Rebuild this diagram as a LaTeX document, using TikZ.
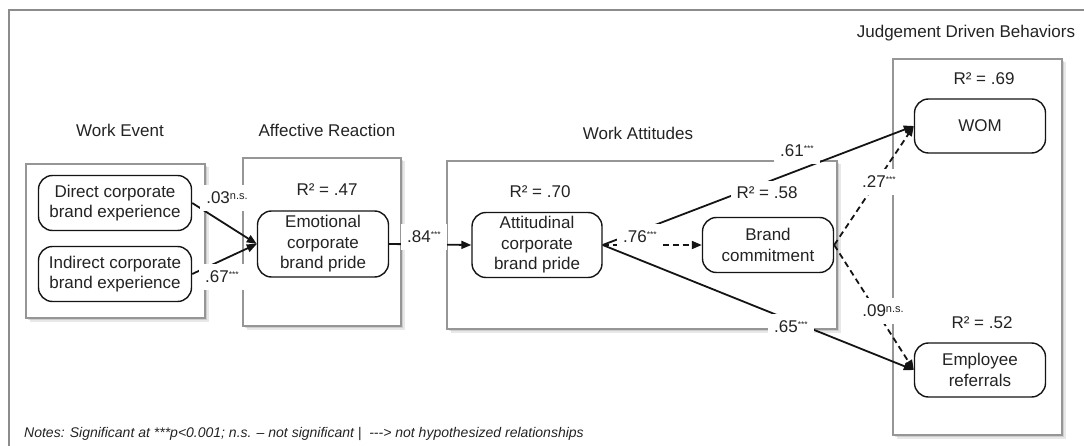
\documentclass[tikz,border=0pt]{standalone}
\usepackage{fontspec}
\setmainfont{Liberation Sans}
\usetikzlibrary{arrows.meta,shadows}
\definecolor{boxgray}{RGB}{150,150,150}
\definecolor{framegray}{RGB}{140,140,140}
\definecolor{ink}{RGB}{35,35,35}
\definecolor{linecol}{RGB}{20,20,20}
% significance marks set as small raised text
\newcommand{\sigmark}{\raisebox{0.6ex}{\fontsize{8.5}{8.5}\selectfont ***}}
\newcommand{\nsmark}{\raisebox{0.45ex}{\fontsize{11}{11}\selectfont n.s.}}
\begin{document}
\begin{tikzpicture}[x=1pt,y=-1pt,
  txt/.style={font=\fontsize{17}{20.5}\selectfont, text=ink},
  groupbox/.style={draw=boxgray, line width=1.3pt, fill=white,
    drop shadow={shadow xshift=3.5pt, shadow yshift=-3.5pt, opacity=0.18},
    drop shadow={shadow xshift=2pt, shadow yshift=-2pt, opacity=0.25}},
  construct/.style={txt, draw=linecol, line width=1.4pt, rounded corners=14pt,
    fill=white, align=center, inner sep=0pt},
  coef/.style={txt, fill=white, inner xsep=6pt, inner ysep=7pt},
  rsq/.style={txt, fill=white, inner xsep=6pt, inner ysep=6pt},
  hyp/.style={draw=linecol, line width=1.8pt, -{Triangle[length=10pt,width=8pt]}},
  nonhyp/.style={hyp, dash pattern=on 6pt off 4pt},
]
\useasboundingbox (0,0) rectangle (1084,446);

% outer frame
\draw[framegray, line width=1.5pt] (9,460) -- (9,10) -- (1100,10);

% construct groups
\draw[groupbox] (26,164) rectangle (205,318);
\draw[groupbox] (243,158) rectangle (401,326);
\draw[groupbox] (447,161) rectangle (837,329);
\draw[groupbox] (893,59) rectangle (1062,435);

% group titles
\node[txt] (tevent) at (120,130) {Work Event};
\node[txt] (taffect) at (327,130) {Affective Reaction};
\node[txt] (tattit) at (638,133) {Work Attitudes};
\node[txt] (tbehav) at (966,33) {Judgement Driven Behaviors};

% constructs
\node[construct, minimum width=153pt, minimum height=55pt] (dir) at (115,203) {Direct corporate\\brand experience};
\node[construct, minimum width=153pt, minimum height=55pt] (ind) at (115,274) {Indirect corporate\\brand experience};
\node[construct, minimum width=131pt, minimum height=66pt] (emo) at (323,244) {Emotional\\corporate\\brand pride};
\node[construct, minimum width=130pt, minimum height=65pt] (att) at (537,245) {Attitudinal\\corporate\\brand pride};
\node[construct, minimum width=131pt, minimum height=55pt] (bc) at (768,245) {Brand\\commitment};
\node[construct, minimum width=131pt, minimum height=54pt] (wom) at (980,126) {WOM};
\node[construct, minimum width=131pt, minimum height=54pt] (ref) at (980,370) {Employee\\referrals};

% structural paths
\draw[hyp] (dir.east) -- (emo.west);
\draw[hyp] (ind.east) -- (emo.west);
\draw[hyp] (emo.east) -- (att.west);
\draw[nonhyp] (att.east) -- (bc.west);
\draw[hyp] (att.east) -- (wom.west);
\draw[hyp] (att.east) -- (ref.west);
\draw[nonhyp] (bc.east) -- (wom.west);
\draw[nonhyp] (bc.east) -- (ref.west);

% explained variance
\node[rsq] (r2emo) at (327,190) {R² = .47};
\node[rsq] (r2att) at (540,192) {R² = .70};
\node[rsq] (r2bc) at (767,193) {R² = .58};
\node[rsq] (r2wom) at (984,79) {R² = .69};
\node[rsq] (r2ref) at (982,323) {R² = .52};

% path coefficients
\node[coef] (c1) at (227,198) {.03\nsmark};
\node[coef] (c2) at (222,277) {.67\sigmark};
\node[coef] (c3) at (424,237) {.84\sigmark};
\node[coef] (c4) at (640,237) {.76\sigmark};
\node[coef] (c5) at (797,151) {.61\sigmark};
\node[coef] (c6) at (791,327) {.65\sigmark};
\node[coef] (c7) at (879,182) {.27\sigmark};
\node[coef] (c8) at (883,311) {.09\nsmark};

% legend
\node[anchor=west, font=\fontsize{14}{16}\selectfont\itshape, text=ink, inner sep=0pt] (notes) at (24,434)
  {Notes: Significant at ***p<0.001; n.s. – not significant \textbar\ \ -{}-{}-> not hypothesized relationships};
\end{tikzpicture}
\end{document}
